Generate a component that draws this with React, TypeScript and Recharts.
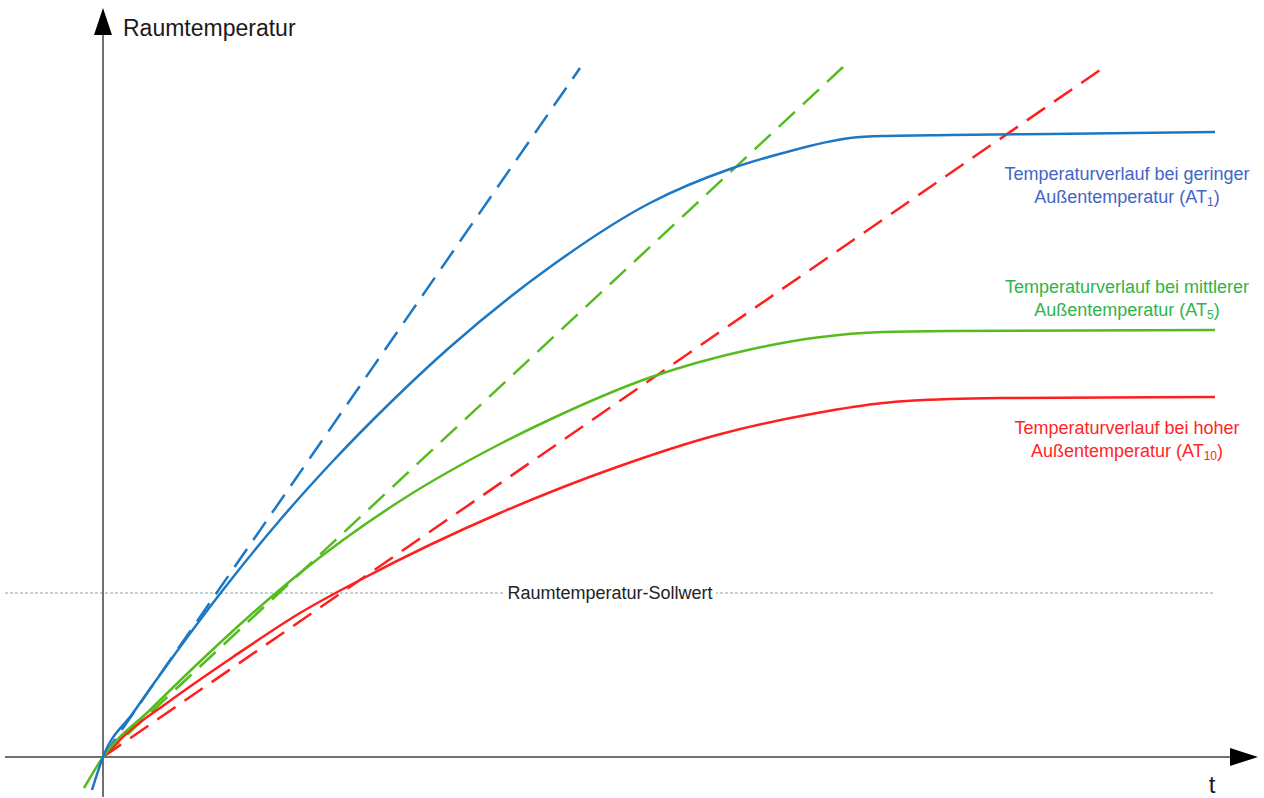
import { ComposedChart, Line, XAxis, YAxis, ReferenceLine, ReferenceDot } from "recharts";

// t and room temperature in arbitrary units (origin = start of heating)
const blueCurve = [
  { x: -0.11, y: -0.33 }, { x: 0, y: 0 }, { x: 0.3, y: 0.44 }, { x: 0.64, y: 0.92 },
  { x: 1.27, y: 1.76 }, { x: 1.77, y: 2.37 }, { x: 2.3, y: 2.96 }, { x: 2.87, y: 3.54 },
  { x: 3.47, y: 4.1 }, { x: 4.47, y: 4.9 }, { x: 5.47, y: 5.54 }, { x: 6.27, y: 5.88 },
  { x: 6.8, y: 6.04 }, { x: 7.47, y: 6.19 }, { x: 7.8, y: 6.21 }, { x: 8.47, y: 6.22 },
  { x: 9.47, y: 6.23 }, { x: 11.12, y: 6.25 },
];
const greenCurve = [
  { x: -0.19, y: -0.31 }, { x: 0, y: 0 }, { x: 0.47, y: 0.47 }, { x: 0.97, y: 0.955 },
  { x: 1.47, y: 1.415 }, { x: 1.97, y: 1.84 }, { x: 2.97, y: 2.56 }, { x: 3.97, y: 3.13 },
  { x: 4.47, y: 3.375 }, { x: 5.47, y: 3.795 }, { x: 6.47, y: 4.075 }, { x: 7.14, y: 4.195 },
  { x: 7.8, y: 4.25 }, { x: 8.47, y: 4.26 }, { x: 11.12, y: 4.27 },
];
const redCurve = [
  { x: 0, y: 0 }, { x: 0.24, y: 0.24 }, { x: 0.64, y: 0.54 }, { x: 1.3, y: 1.0 },
  { x: 1.97, y: 1.44 }, { x: 2.57, y: 1.77 }, { x: 3.97, y: 2.44 }, { x: 5.14, y: 2.9 },
  { x: 6.14, y: 3.22 }, { x: 7.14, y: 3.44 }, { x: 7.8, y: 3.54 }, { x: 8.47, y: 3.58 },
  { x: 8.97, y: 3.59 }, { x: 11.12, y: 3.6 },
];
// initial slopes (tangents at t = 0)
const blueTangent = [{ x: 0, y: 0 }, { x: 4.77, y: 6.89 }];
const greenTangent = [{ x: 0, y: 0 }, { x: 7.4, y: 6.9 }];
const redTangent = [{ x: 0, y: 0 }, { x: 9.97, y: 6.87 }];

const setpoint = 1.64;
const setpointLabel = "Raumtemperatur-Sollwert";

const noteTitles = [
  "Temperaturverlauf bei geringer",
  "Temperaturverlauf bei mittlerer",
  "Temperaturverlauf bei hoher",
];
const noteSubs = ["1", "5", "10"];
const noteY = [5.83, 4.7, 3.29];

const BLUE = "#1d78c4";
const GREEN = "#55bb1f";
const RED = "#ff1f1f";
const noteColors = ["#4465c6", "#2fb44c", "#ff2626"];
const FONT = "'Liberation Sans', Arial, sans-serif";

function ArrowUp({ cx, cy }: any) {
  return <polygon points={`${cx},${cy} ${cx - 9},${cy + 27} ${cx + 9},${cy + 27}`} fill="#000" />;
}

function ArrowRight({ cx, cy }: any) {
  return <polygon points={`${cx},${cy} ${cx - 28},${cy - 9} ${cx - 28},${cy + 9}`} fill="#000" />;
}

function Note({ cx, cy, idx }: any) {
  return (
    <text x={cx} y={cy} textAnchor="middle" fontFamily={FONT} fontSize={18} fill={noteColors[idx]}>
      <tspan x={cx} dy={6}>{noteTitles[idx]}</tspan>
      <tspan x={cx} dy={23}>Außentemperatur (AT</tspan>
      <tspan fontSize={12} dy={3}>{noteSubs[idx]}</tspan>
      <tspan dy={-3}>)</tspan>
    </text>
  );
}

function SetpointLabel({ cx, cy }: any) {
  return (
    <g>
      <rect x={cx - 106} y={cy - 10} width={212} height={20} fill="#fff" />
      <text x={cx} y={cy} dy={6} textAnchor="middle" fontFamily={FONT} fontSize={18} fill="#222">
        {setpointLabel}
      </text>
    </g>
  );
}

function AxisText({ cx, cy, text, size, anchor }: any) {
  return (
    <text x={cx} y={cy} dy={size * 0.35} textAnchor={anchor} fontFamily={FONT} fontSize={size} fill="#1a1a1a">
      {text}
    </text>
  );
}

export default function App() {
  return (
    <div style={{ position: "absolute", left: 0, top: 0, width: 1264, height: 798, background: "#fff" }}>
      <ComposedChart width={1264} height={798} margin={{ top: 0, right: 0, bottom: 0, left: 0 }}>
        <XAxis type="number" dataKey="x" domain={[-1.03, 11.61]} hide allowDataOverflow />
        <YAxis type="number" dataKey="y" domain={[-0.41, 7.57]} hide allowDataOverflow />

        <ReferenceLine
          segment={[{ x: -0.98, y: setpoint }, { x: 11.1, y: setpoint }]}
          stroke="#8aa0a0"
          strokeWidth={1}
          strokeDasharray="3 2"
        />
        <ReferenceDot x={5.07} y={setpoint} r={0} shape={(p: any) => <SetpointLabel {...p} />} />

        <ReferenceLine segment={[{ x: 0, y: -0.4 }, { x: 0, y: 7.25 }]} stroke="#707070" strokeWidth={2} />
        <ReferenceLine segment={[{ x: -0.98, y: 0 }, { x: 11.3, y: 0 }]} stroke="#707070" strokeWidth={2} />
        <ReferenceDot x={0} y={7.49} r={0} shape={(p: any) => <ArrowUp {...p} />} />
        <ReferenceDot x={11.55} y={0} r={0} shape={(p: any) => <ArrowRight {...p} />} />

        <Line data={blueTangent} dataKey="y" type="linear" stroke={BLUE} strokeWidth={2.5} strokeDasharray="22 11" dot={false} activeDot={false} isAnimationActive={false} />
        <Line data={greenTangent} dataKey="y" type="linear" stroke={GREEN} strokeWidth={2.5} strokeDasharray="22 11" dot={false} activeDot={false} isAnimationActive={false} />
        <Line data={redTangent} dataKey="y" type="linear" stroke={RED} strokeWidth={2.5} strokeDasharray="22 11" dot={false} activeDot={false} isAnimationActive={false} />

        <Line data={redCurve} dataKey="y" type="monotone" stroke={RED} strokeWidth={2.5} dot={false} activeDot={false} isAnimationActive={false} />
        <Line data={greenCurve} dataKey="y" type="monotone" stroke={GREEN} strokeWidth={2.5} dot={false} activeDot={false} isAnimationActive={false} />
        <Line data={blueCurve} dataKey="y" type="monotone" stroke={BLUE} strokeWidth={2.5} dot={false} activeDot={false} isAnimationActive={false} />

        {noteY.map((y, i) => (
          <ReferenceDot key={i} x={10.24} y={y} r={0} shape={(p: any) => <Note {...p} idx={i} />} />
        ))}

        <ReferenceDot x={0.2} y={7.29} r={0} shape={(p: any) => <AxisText {...p} text="Raumtemperatur" size={23} anchor="start" />} />
        <ReferenceDot x={11.09} y={-0.28} r={0} shape={(p: any) => <AxisText {...p} text="t" size={24} anchor="middle" />} />
      </ComposedChart>
    </div>
  );
}
